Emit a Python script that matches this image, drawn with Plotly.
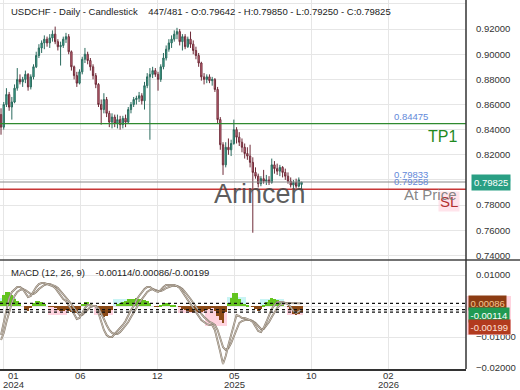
import plotly.graph_objects as go
from plotly.subplots import make_subplots

# ---------------- data ----------------
bars = list(range(0, 448, 4))   # bar index of each (aggregated) candle

opens = [.852,.842,.860,.868,.858,.862,.873,.880,.878,.880,
         .884,.874,.882,.890,.899,.905,.909,.912,.909,.913,
         .916,.910,.906,.907,.912,.914,.902,.890,.883,.877,
         .886,.896,.900,.895,.890,.883,.876,.860,.856,.864,
         .853,.846,.850,.845,.848,.844,.849,.846,.856,.860,
         .864,.865,.867,.863,.875,.882,.884,.887,.884,.880,
         .890,.897,.904,.909,.912,.916,.918,.910,.914,.906,
         .912,.908,.903,.899,.893,.882,.880,.882,.879,.880,
         .872,.848,.828,.812,.826,.824,.829,.840,.834,.830,
         .826,.821,.819,.814,.806,.803,.797,.801,.799,.800,
         .798,.812,.809,.807,.810,.806,.803,.799,.796,.798,
         .795,.79642]
highs = [.857,.862,.873,.870,.866,.876,.889,.884,.882,.887,
         .885,.884,.892,.902,.908,.911,.915,.914,.916,.919,
         .922,.912,.910,.914,.917,.916,.903,.891,.886,.888,
         .898,.905,.902,.897,.892,.885,.877,.864,.869,.866,
         .855,.853,.852,.852,.851,.851,.852,.858,.862,.866,
         .867,.870,.869,.878,.885,.889,.890,.889,.886,.892,
         .901,.907,.912,.915,.919,.921,.920,.916,.916,.914,
         .918,.911,.906,.901,.894,.885,.884,.884,.882,.881,
         .874,.850,.830,.830,.833,.832,.848,.842,.838,.833,
         .829,.826,.828,.818,.810,.805,.803,.808,.804,.803,
         .817,.815,.813,.812,.811,.809,.806,.802,.800,.801,
         .802,.79850]
lows = [.836,.840,.858,.855,.848,.861,.871,.876,.874,.877,
        .871,.872,.880,.889,.897,.901,.904,.906,.905,.910,
        .908,.903,.891,.905,.909,.900,.887,.880,.874,.876,
        .884,.893,.892,.887,.880,.873,.858,.844,.853,.850,
        .842,.841,.842,.841,.840,.841,.842,.845,.853,.858,
        .860,.862,.860,.856,.873,.832,.881,.882,.871,.878,
        .888,.895,.902,.905,.910,.912,.907,.903,.904,.905,
        .905,.900,.896,.890,.879,.876,.877,.877,.875,.870,
        .845,.824,.804,.810,.820,.819,.828,.829,.827,.822,
        .817,.816,.810,.758,.801,.794,.795,.797,.796,.796,
        .797,.805,.804,.803,.802,.800,.797,.794,.793,.793,
        .794,.79250]
closes = [.842,.860,.868,.858,.862,.873,.880,.878,.880,.884,
          .874,.882,.890,.899,.905,.909,.912,.909,.913,.916,
          .910,.906,.907,.912,.914,.902,.890,.883,.877,.886,
          .896,.900,.895,.890,.883,.876,.860,.856,.864,.853,
          .846,.850,.845,.848,.844,.849,.846,.856,.860,.864,
          .865,.867,.863,.875,.882,.884,.887,.884,.880,.890,
          .897,.904,.909,.912,.916,.918,.910,.914,.906,.912,
          .908,.903,.899,.893,.882,.880,.882,.879,.880,.872,
          .848,.828,.812,.826,.824,.829,.840,.834,.830,.826,
          .821,.819,.814,.806,.803,.797,.801,.799,.800,.798,
          .812,.809,.807,.810,.806,.803,.799,.796,.798,.795,
          .800,.79825]

macd = [-0.00935,-0.00516,-0.00065,0.00258,0.00452,0.00548,0.00613,0.00613,0.00548,0.00419,
        0.00290,0.00323,0.00484,0.00613,0.00710,0.00742,0.00742,0.00710,0.00677,0.00645,
        0.00581,0.00452,0.00323,0.00226,0.00161,0.00032,-0.00129,-0.00258,-0.00419,-0.00387,
        -0.00226,-0.00065,0.00032,0.00032,0.0,0.0,-0.00226,-0.00516,-0.00774,-0.00935,
        -0.01000,-0.01000,-0.00903,-0.00839,-0.00742,-0.00613,-0.00484,-0.00290,-0.00129,0.0,
        0.00194,0.00323,0.00452,0.00548,0.00613,0.00613,0.00548,0.00484,0.00452,0.00516,
        0.00613,0.00677,0.00677,0.00677,0.00677,0.00645,0.00581,0.00452,0.00323,0.00194,
        0.00032,-0.00097,-0.00194,-0.00323,-0.00452,-0.00516,-0.00581,-0.00613,-0.00613,-0.00774,
        -0.01097,-0.01484,-0.01871,-0.01613,-0.01258,-0.00935,-0.00548,-0.00290,-0.00323,-0.00387,
        -0.00387,-0.00419,-0.00452,-0.00516,-0.00645,-0.00806,-0.00839,-0.00710,-0.00516,-0.00323,
        -0.00097,0.00032,0.00129,0.00129,0.00129,0.00097,0.00065,-0.00032,-0.00161,-0.00226,
        -0.00161,-0.00114]
signal = [-0.01097,-0.00871,-0.00516,-0.00194,0.00097,0.00323,0.00452,0.00516,0.00548,0.00516,
          0.00452,0.00387,0.00387,0.00452,0.00548,0.00613,0.00677,0.00710,0.00710,0.00677,
          0.00645,0.00581,0.00484,0.00387,0.00290,0.00194,0.00065,-0.00065,-0.00194,-0.00290,
          -0.00290,-0.00194,-0.00097,-0.00032,0.0,0.0,-0.00065,-0.00226,-0.00419,-0.00613,
          -0.00774,-0.00871,-0.00903,-0.00903,-0.00839,-0.00742,-0.00645,-0.00516,-0.00355,-0.00226,
          -0.00065,0.00097,0.00226,0.00355,0.00452,0.00516,0.00548,0.00516,0.00484,0.00484,
          0.00516,0.00581,0.00613,0.00645,0.00645,0.00645,0.00613,0.00548,0.00452,0.00355,
          0.00226,0.00097,-0.00032,-0.00129,-0.00258,-0.00355,-0.00452,-0.00516,-0.00548,-0.00613,
          -0.00774,-0.01032,-0.01323,-0.01419,-0.01355,-0.01194,-0.00968,-0.00710,-0.00548,-0.00484,
          -0.00452,-0.00452,-0.00452,-0.00484,-0.00548,-0.00645,-0.00742,-0.00742,-0.00645,-0.00516,
          -0.00355,-0.00194,-0.00065,0.00032,0.00065,0.00097,0.00097,0.00097,0.00097,0.00081,
          0.00081,0.00086]
hist = [0.00161,0.00355,0.00452,0.00452,0.00355,0.00226,0.00161,0.00097,0.0,-0.00097,
        -0.00161,-0.00065,0.00097,0.00161,0.00161,0.00129,0.00065,0.0,-0.00032,-0.00032,
        -0.00065,-0.00129,-0.00161,-0.00161,-0.00129,-0.00161,-0.00194,-0.00194,-0.00226,-0.00097,
        0.00065,0.00129,0.00129,0.00065,0.0,0.0,-0.00161,-0.00290,-0.00355,-0.00323,
        -0.00226,-0.00129,0.0,0.00065,0.00097,0.00129,0.00161,0.00226,0.00226,0.00226,
        0.00258,0.00226,0.00226,0.00194,0.00161,0.00097,0.0,-0.00032,-0.00032,0.00032,
        0.00097,0.00097,0.00065,0.00032,0.00032,0.0,-0.00032,-0.00097,-0.00129,-0.00161,
        -0.00194,-0.00194,-0.00161,-0.00194,-0.00194,-0.00161,-0.00129,-0.00097,-0.00065,-0.00161,
        -0.00323,-0.00452,-0.00548,-0.00194,0.00097,0.00258,0.00419,0.00419,0.00226,0.00097,
        0.00065,0.00032,0.0,-0.00032,-0.00097,-0.00161,-0.00097,0.00032,0.00129,0.00194,
        0.00258,0.00226,0.00194,0.00097,0.00065,0.0,-0.00032,-0.00129,-0.00258,-0.00306,
        -0.00242,-0.00199]
# shaded trend zones behind the histogram
zone = ([0.0025]*6 + [0]*12 + [-0.0028]*7 + [0]*10 + [-0.0028]*7 + [0.0022]*10 +
        [0]*14 + [-0.0022]*10 + [-0.0065]*8 + [0.0030]*7 + [0]*5 + [0.0022]*9 +
        [0]*1 + [-0.0028]*6)

tick_bars = [3, 117, 231, 345, 459, 573]
tick_months = ["01", "06", "12", "05", "10", "02"]
tick_years = ["2024", "", "", "2025", "", "2026"]

tp1 = 0.84475
at_price = 0.79833
sl = 0.79258
last_close = 0.79825
macd_last, signal_last, hist_last = -0.00114, 0.00086, -0.00199

title_text = ("USDCHF - Daily - Candlestick&nbsp;&nbsp;&nbsp; 447/481 - O:0.79642 - "
              "H:0.79850 - L:0.79250 - C:0.79825")
macd_text = "MACD (12, 26, 9)&nbsp;&nbsp;&nbsp; -0.00114/0.00086/-0.00199"

# ---------------- figure ----------------
FONT = "Liberation Sans, Arial, sans-serif"
W, H = 520, 390
PW, PH = 466, 369          # plot area in pixels
split = 109 / PH           # MACD pane fraction

fig = make_subplots(rows=2, cols=1, shared_xaxes=True, vertical_spacing=0,
                    row_heights=[1 - split, split])

fig.add_trace(go.Candlestick(
    x=bars, open=opens, high=highs, low=lows, close=closes,
    increasing=dict(line=dict(color="#2b6b5e", width=1), fillcolor="#3db39a"),
    decreasing=dict(line=dict(color="#6e2b38", width=1), fillcolor="#e27a8e"),
    whiskerwidth=0, showlegend=False, hoverinfo="skip"), row=1, col=1)

fig.add_trace(go.Bar(x=bars, y=zone, width=4,
                     marker=dict(color=["#c9f4f4" if z > 0 else "#ffd3df" for z in zone],
                                 line=dict(width=0)),
                     showlegend=False, hoverinfo="skip"), row=2, col=1)
fig.add_trace(go.Bar(x=bars, y=hist, width=4,
                     marker=dict(color=["#63c41f" if h > 0 else "#8b4a16" for h in hist],
                                 line=dict(width=0)),
                     showlegend=False, hoverinfo="skip"), row=2, col=1)
for series in (signal, macd):
    fig.add_trace(go.Scatter(x=bars, y=series, mode="lines",
                             line=dict(color="#85786a", width=1.9),
                             showlegend=False, hoverinfo="skip"), row=2, col=1)
    fig.add_trace(go.Scatter(x=bars, y=series, mode="lines",
                             line=dict(color="#efe9df", width=0.6),
                             showlegend=False, hoverinfo="skip"), row=2, col=1)

xr = [-1.5, 687]
grid = "#e6e6e6"
fig.update_layout(
    width=W, height=H, margin=dict(l=0, r=W - PW, t=0, b=H - PH),
    paper_bgcolor="white", plot_bgcolor="white",
    font=dict(family=FONT, size=9.5, color="#333"),
    barmode="overlay", bargap=0, showlegend=False,
)
fig.update_xaxes(range=xr, tickvals=tick_bars, showticklabels=False, showgrid=True,
                 gridcolor=grid, gridwidth=1, zeroline=False, rangeslider_visible=False,
                 showline=False)
fig.update_xaxes(showline=True, linecolor="#333", linewidth=1.5, row=2, col=1)
fig.update_yaxes(side="right", range=[0.73631, 0.94315], dtick=0.02, tick0=0.74,
                 tickformat=".5f", gridcolor=grid, zeroline=False, showline=False,
                 ticklabelstandoff=9, row=1, col=1)
fig.update_yaxes(side="right", range=[-0.02032, 0.01484], tickvals=[0.01, 0.0, -0.01, -0.02],
                 tickformat=".5f", gridcolor=grid, zeroline=False, showline=False,
                 ticklabelstandoff=9, row=2, col=1)

shapes = []
for val, col, wd in ((tp1, "#2f8a2f", 1.3), (at_price, "#8a8a8a", 1.1), (sl, "#c73636", 1.4)):
    shapes.append(dict(type="line", xref="x domain", yref="y", x0=0, x1=1, y0=val, y1=val,
                       line=dict(color=col, width=wd), layer="above"))
for val in (signal_last, macd_last, hist_last):
    shapes.append(dict(type="line", xref="x2 domain", yref="y2", x0=0, x1=1, y0=val, y1=val,
                       line=dict(color="#111", width=1.2, dash="dot"), layer="above"))
shapes.append(dict(type="rect", xref="paper", yref="paper", x0=1.0, x1=511 / PW,
                   y0=(PH - 335) / PH, y1=(PH - 296) / PH, fillcolor="#ffd3de",
                   line=dict(width=0), layer="above"))
shapes.append(dict(type="line", xref="paper", yref="paper", x0=0, x1=W / PW, y0=split, y1=split,
                   line=dict(color="#444", width=1.5)))
shapes.append(dict(type="line", xref="paper", yref="paper", x0=1, x1=1, y0=0, y1=1,
                   line=dict(color="#333", width=1.5)))
fig.update_layout(shapes=shapes)

ann = []
def px_y(py):
    return (PH - py) / PH

ann.append(dict(text=title_text, xref="paper", yref="paper", x=9 / PW, y=px_y(12),
                xanchor="left", yanchor="middle", showarrow=False,
                font=dict(size=9.5, color="#222")))
ann.append(dict(text=macd_text, xref="paper", yref="paper", x=9 / PW, y=px_y(273),
                xanchor="left", yanchor="middle", showarrow=False,
                font=dict(size=9.5, color="#222")))
for i, (b, m, yr) in enumerate(zip(tick_bars, tick_months, tick_years)):
    shift = 10.5 if i == 0 else 0
    ann.append(dict(text=m, xref="x2", yref="paper", x=b, y=px_y(375.5), xanchor="center",
                    yanchor="middle", xshift=shift, showarrow=False, font=dict(size=9.5, color="#333")))
    if yr:
        ann.append(dict(text=yr, xref="x2", yref="paper", x=b, y=px_y(384.5), xanchor="center",
                        yanchor="middle", xshift=shift, showarrow=False, font=dict(size=9.5, color="#333")))
blue = "#6389d9"
for val, shift in ((tp1, 7), (at_price, 7.5), (sl, 7.5)):
    ann.append(dict(text=f"{val:.5f}", xref="paper", yref="y", x=392 / PW, y=val, xanchor="left",
                    yanchor="middle", yshift=shift, showarrow=False, font=dict(size=9.5, color=blue)))
ann.append(dict(text="Arincen", xref="paper", yref="paper", x=259.5 / PW, y=px_y(194),
                xanchor="center", yanchor="middle", showarrow=False,
                font=dict(size=27, color="rgba(72,72,72,0.88)")))
ann.append(dict(text="TP1", xref="paper", yref="y", x=459 / PW, y=tp1, xanchor="right",
                yanchor="middle", yshift=-12.5, showarrow=False, font=dict(size=16, color="#1f8a1f")))
ann.append(dict(text="SL", xref="paper", yref="y", x=460 / PW, y=sl, xanchor="right",
                yanchor="middle", yshift=-12.5, showarrow=False, bgcolor="rgba(255,205,218,0.55)",
                font=dict(size=15, color="#b33030")))
ann.append(dict(text="At Price", xref="paper", yref="y", x=459 / PW, y=at_price, xanchor="right",
                yanchor="middle", yshift=-12.3, showarrow=False,
                font=dict(size=15, color="rgba(120,120,120,0.9)")))
ann.append(dict(text=f"{last_close:.5f}", xref="paper", yref="y", x=1.0, y=last_close,
                xanchor="left", yanchor="middle", xshift=5, showarrow=False,
                bgcolor="#2a9f84", borderpad=2, font=dict(size=9.5, color="white")))
for val, shift, bg, fg in ((signal_last, 0, "#8c3c13", "#f5c48e"),
                           (macd_last, -5.5, "#1f9a52", "white"),
                           (hist_last, -15, "#b23a1e", "#ffe0d8")):
    ann.append(dict(text=f"{val:.5f}", xref="paper", yref="y2", x=1.0, y=val,
                    xanchor="left", yanchor="middle", xshift=2, yshift=shift, showarrow=False,
                    bgcolor=bg, borderpad=1.5, font=dict(size=9.5, color=fg)))
fig.update_layout(annotations=ann)

fig.write_html("out.html", config={"displayModeBar": False},
               post_script="document.body.style.margin='0px';")
